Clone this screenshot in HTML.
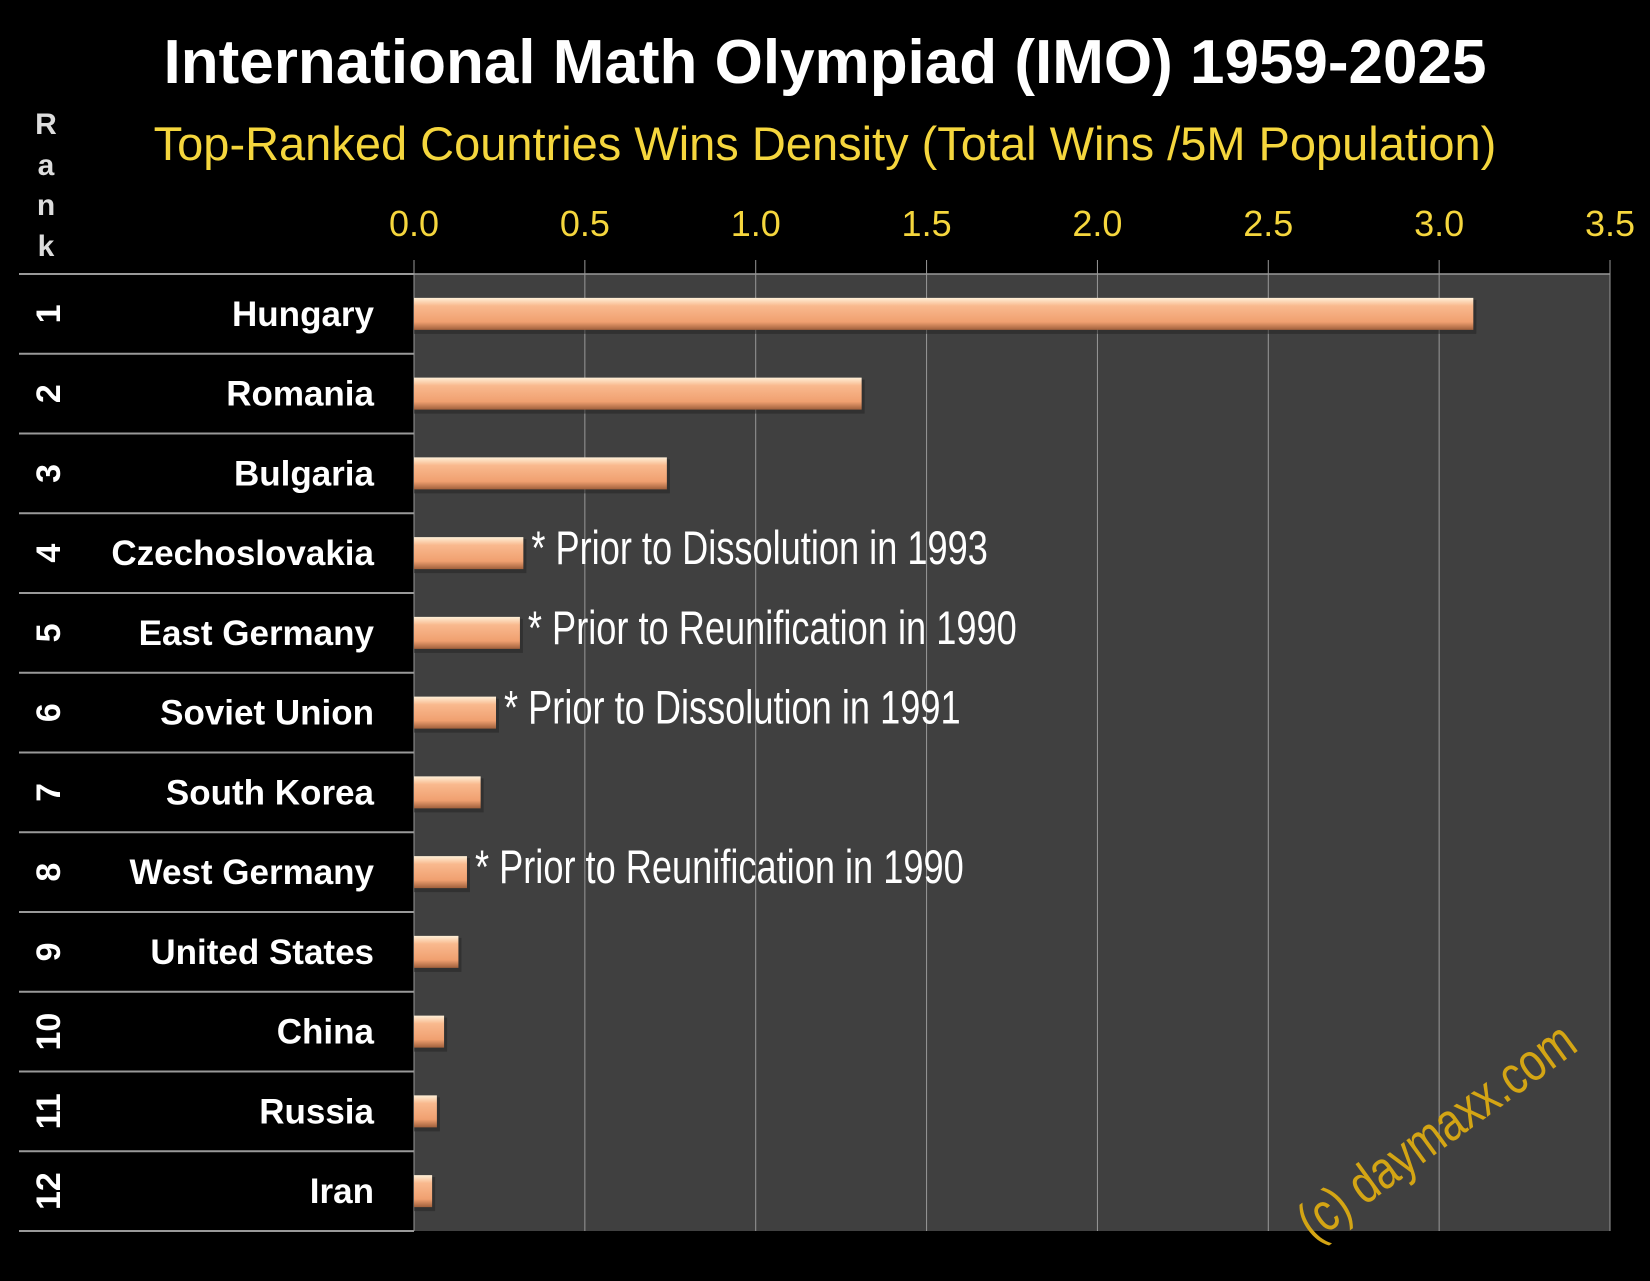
<!DOCTYPE html>
<html><head><meta charset="utf-8"><style>
body{margin:0;background:#000;width:1650px;height:1276px;overflow:hidden;font-family:"Liberation Sans",sans-serif}
</style></head><body>
<svg width="1650" height="1276" xmlns="http://www.w3.org/2000/svg">
<defs>
<linearGradient id="bg" x1="0" y1="0" x2="0" y2="1">
<stop offset="0" stop-color="#fff0d8"/><stop offset="0.25" stop-color="#f9b98e"/><stop offset="0.75" stop-color="#f0a070"/><stop offset="1" stop-color="#a0603c"/>
</linearGradient>
</defs>
<text x="825" y="83" text-anchor="middle" font-size="62" font-weight="bold" fill="#fff">International Math Olympiad (IMO) 1959-2025</text>
<text x="825" y="160" text-anchor="middle" font-size="47" fill="#f5d63d">Top-Ranked Countries Wins Density (Total Wins /5M Population)</text>
<g font-size="30" font-weight="bold" fill="#ddd" text-anchor="middle">
<text x="46" y="134">R</text><text x="46" y="175">a</text><text x="46" y="215">n</text><text x="46" y="256">k</text>
</g>
<g id="plot"></g>
</svg>
<script>
const countries=["Hungary","Romania","Bulgaria","Czechoslovakia","East Germany","Soviet Union","South Korea","West Germany","United States","China","Russia","Iran"];
const values=[3.10,1.31,0.74,0.32,0.31,0.24,0.195,0.155,0.13,0.088,0.067,0.053];
const notes=["","","","* Prior to Dissolution in 1993","* Prior to Reunification in 1990","* Prior to Dissolution in 1991","","* Prior to Reunification in 1990","","","",""];
const ticks=[0,0.5,1,1.5,2,2.5,3,3.5];
const NS="http://www.w3.org/2000/svg";
const L=414,R=1610,T=274,B=1231;
const x=v=>L+(R-L)*v/3.5;
const rowH=(B-T)/countries.length;
const y=i=>T+rowH*(i+0.5);
const g=document.getElementById('plot');
function mk(t,a,txt){const e=document.createElementNS(NS,t);for(const k in a)e.setAttribute(k,a[k]);if(txt!==undefined)e.textContent=txt;g.appendChild(e);return e;}
let e=mk('rect',{x:L,y:T,width:R-L,height:B-T,fill:'#404040'});


e=mk('line',{x1:L,y1:T,x2:R,y2:T,stroke:'#999','stroke-width':1.5});


ticks.forEach(t=>{
 let l=mk('line',{x1:x(t),y1:T-14,x2:x(t),y2:B,stroke:'#999','stroke-width':1});
 
 
 let tx=mk('text',{x:x(t),y:236,'text-anchor':'middle','font-size':36,fill:'#f5d63d'},t.toFixed(1));
 
 
});
countries.forEach((c,i)=>{
 const yc=y(i);
 let s=mk('line',{x1:19,y1:T+rowH*(i+1),x2:L,y2:T+rowH*(i+1),stroke:'#999','stroke-width':2});
 
 
 if(i==0){let s0=mk('line',{x1:19,y1:T,x2:L,y2:T,stroke:'#999','stroke-width':2});
 
 }
 let r=mk('text',{x:0,y:0,'text-anchor':'middle','font-size':34,'font-weight':'bold',fill:'#fff',transform:`translate(60,${yc}) rotate(-90)`},String(i+1));
 
 
 let n=mk('text',{x:374,y:yc+12,'text-anchor':'end','font-size':35,'font-weight':'bold',fill:'#fff'},c);
 
 
 let sh=mk('rect',{x:L,y:yc-14,width:x(values[i])-L+3,height:34,fill:'#222',opacity:0.5});
 
 
 let b=mk('rect',{x:L,y:yc-16,width:x(values[i])-L,height:32,fill:'url(#bg)'});
 
 
 if(notes[i]){
  const ax=x(values[i])+8;
  let a=mk('text',{x:ax,y:yc+11,'font-size':47,fill:'#fff',transform:`translate(${ax},0) scale(0.77,1) translate(${-ax},0)`},notes[i]);
  
  
 }
});
let w=mk('text',{x:0,y:0,'font-size':54,fill:'#d4a514','text-anchor':'middle',transform:'translate(1447,1146) rotate(-36) scale(0.8,1)'},'(c) daymaxx.com');


</script>
</body></html>
